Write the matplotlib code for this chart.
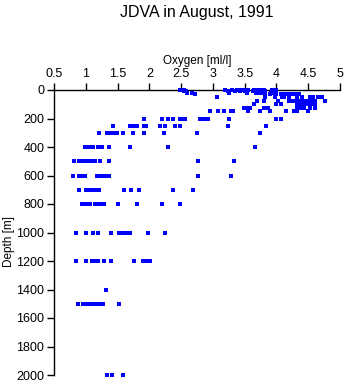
import numpy as np
import matplotlib
matplotlib.use('Agg')
import matplotlib.pyplot as plt

# oxygen readings [ml/l] at each sampled depth [m]
depths = [0, 10, 20, 30, 50, 75, 100, 125, 150, 200, 250, 300, 400, 500,
          600, 700, 800, 1000, 1200, 1400, 1500, 2000]

oxy_0 = [2.48, 2.52, 2.55, 3.19, 3.30, 3.38, 3.42, 3.46, 3.51, 3.54, 3.56, 3.64,
         3.67, 3.70, 3.72, 3.74, 3.77, 3.80, 3.93, 3.96, 3.99]
oxy_10 = [2.54, 2.57, 3.24, 3.35, 3.42, 3.51, 3.63, 3.66, 3.70, 3.75, 3.79, 3.82,
          3.94, 3.98]
oxy_20 = [2.60, 2.67, 3.26, 3.53, 3.68, 3.73, 3.78, 3.92, 3.97]
oxy_30 = [2.72, 3.82, 3.90, 4.00, 4.07, 4.11, 4.15, 4.18, 4.24, 4.28, 4.32, 4.35]
oxy_50 = [3.06, 3.82, 3.97, 4.08, 4.12, 4.19, 4.32, 4.40, 4.53, 4.58, 4.65, 4.72]
oxy_75 = [3.69, 3.80, 4.02, 4.19, 4.25, 4.29, 4.32, 4.39, 4.43, 4.50, 4.53, 4.56,
          4.61, 4.77]
oxy_100 = [3.64, 3.99, 4.07, 4.32, 4.36, 4.40, 4.43, 4.45, 4.49, 4.53, 4.56, 4.61]
oxy_125 = [3.49, 3.52, 3.56, 3.59, 3.80, 3.83, 3.86, 4.32, 4.36, 4.40, 4.44, 4.53,
           4.61]
oxy_150 = [2.96, 3.08, 3.18, 3.29, 3.32, 3.56, 3.74, 3.90, 4.15, 4.27, 4.30, 4.32,
           4.50]
oxy_200 = [1.92, 2.20, 2.30, 2.37, 2.48, 2.52, 2.56, 2.80, 2.84, 2.88, 2.92, 3.26,
           4.00, 4.07]
oxy_250 = [1.43, 1.69, 1.72, 1.76, 1.80, 1.92, 1.95, 2.16, 2.25, 2.40, 2.48, 3.24,
           3.83]
oxy_300 = [1.21, 1.33, 1.37, 1.41, 1.45, 1.49, 1.58, 1.74, 1.91, 2.23, 2.75, 3.74]
oxy_400 = [0.99, 1.02, 1.05, 1.08, 1.12, 1.20, 1.25, 1.36, 1.69, 2.29, 3.66]
oxy_500 = [0.82, 0.89, 0.92, 0.96, 1.01, 1.04, 1.08, 1.12, 1.15, 1.22, 1.36, 2.76,
           3.33]
oxy_600 = [0.80, 0.90, 0.93, 0.99, 1.17, 1.20, 1.25, 1.29, 1.33, 1.36, 2.77, 3.29]
oxy_700 = [0.90, 1.01, 1.04, 1.08, 1.12, 1.15, 1.21, 1.60, 1.71, 1.83, 2.37, 2.68]
oxy_800 = [0.94, 1.01, 1.04, 1.07, 1.15, 1.18, 1.22, 1.29, 1.51, 1.80, 2.20, 2.48]
oxy_1000 = [0.84, 1.00, 1.12, 1.19, 1.40, 1.53, 1.57, 1.61, 1.66, 1.70, 1.98, 2.24]
oxy_1200 = [0.84, 1.00, 1.10, 1.13, 1.20, 1.29, 1.40, 1.76, 1.90, 1.95, 2.01]
oxy_1400 = [1.32]
oxy_1500 = [0.87, 0.96, 0.99, 1.02, 1.05, 1.08, 1.11, 1.14, 1.18, 1.22, 1.27, 1.53]
oxy_2000 = [1.34, 1.41, 1.59]

oxy_lists = [oxy_0, oxy_10, oxy_20, oxy_30, oxy_50, oxy_75, oxy_100, oxy_125,
             oxy_150, oxy_200, oxy_250, oxy_300, oxy_400, oxy_500, oxy_600,
             oxy_700, oxy_800, oxy_1000, oxy_1200, oxy_1400, oxy_1500, oxy_2000]

xticks = [0.5, 1, 1.5, 2, 2.5, 3, 3.5, 4, 4.5, 5]
xticklabels = ['0.5', '1', '1.5', '2', '2.5', '3', '3.5', '4', '4.5', '5']
yticks = list(range(0, 2001, 200))

oxy = np.concatenate([np.array(o) for o in oxy_lists])
dep = np.concatenate([np.full(len(o), d) for o, d in zip(oxy_lists, depths)])

plt.rcParams['font.family'] = ['Liberation Sans', 'DejaVu Sans']

fig = plt.figure(figsize=(3.45, 3.84), dpi=100)
ax = fig.add_axes([54/345, 1-375/384, (340-54)/345, (375-90)/384])

ax.plot(oxy, dep, linestyle='none', marker='s', markersize=2.2,
        markeredgewidth=0, color='#0000ff', clip_on=False, zorder=3)

ax.set_xlim(0.5, 5)
ax.set_ylim(2000, 0)
ax.xaxis.tick_top()
ax.xaxis.set_label_position('top')
ax.set_xticks(xticks)
ax.set_xticklabels(xticklabels)
ax.set_yticks(yticks)
ax.tick_params(axis='both', direction='out', length=5, width=1, labelsize=9,
               pad=2)
ax.spines['bottom'].set_visible(False)
ax.spines['right'].set_visible(False)
ax.spines['top'].set_linewidth(1)
ax.spines['left'].set_linewidth(1)

ax.set_xlabel('Oxygen [ml/l]', fontsize=8.5, labelpad=3)
ax.set_ylabel('Depth [m]', fontsize=8.5)
ax.yaxis.set_label_coords(-0.135, 0.47)

fig.text(197/345, 1-12/384, 'JDVA in August, 1991', ha='center', va='center',
         fontsize=11.5)

fig.savefig('out.png', dpi=100)
